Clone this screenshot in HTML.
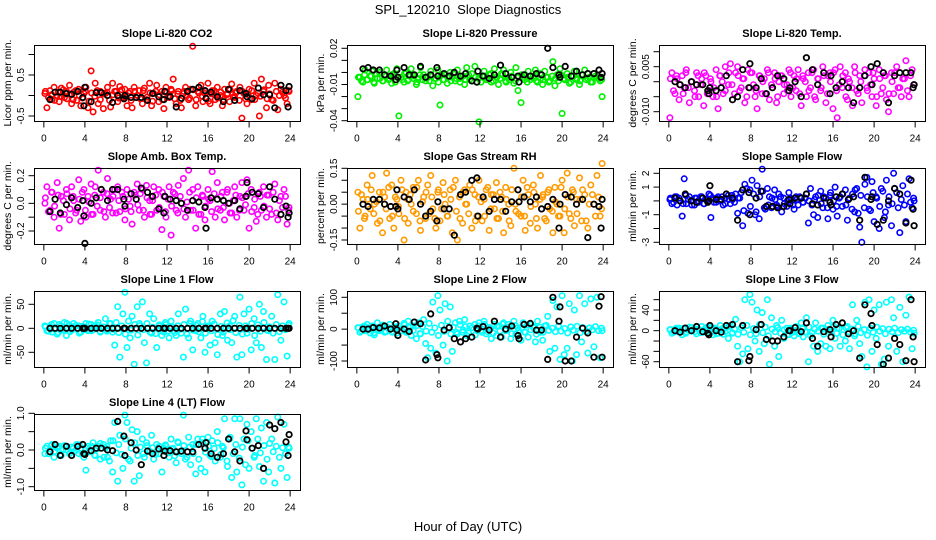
<!DOCTYPE html>
<html><head><meta charset="utf-8"><style>
html,body{margin:0;padding:0;background:#fff}
svg{display:block}
text{font-family:"Liberation Sans",Arial,sans-serif;fill:#000}
</style></head><body>
<svg id="chart" width="936" height="540" viewBox="0 0 936 540" xmlns="http://www.w3.org/2000/svg">
<text x="468" y="14" text-anchor="middle" font-size="13" xml:space="preserve">SPL_120210  Slope Diagnostics</text>
<text x="468" y="531" text-anchor="middle" font-size="13">Hour of Day (UTC)</text>
</svg>
<script>
const hours=[0.1,0.3,0.6,0.8,1.0,1.3,1.5,1.7,2.0,2.2,2.5,2.7,2.9,3.2,3.4,3.6,3.9,4.1,4.3,4.6,4.8,5.0,5.3,5.5,5.8,6.0,6.2,6.5,6.7,6.9,7.2,7.4,7.7,7.9,8.1,8.4,8.6,8.8,9.1,9.3,9.6,9.8,10.0,10.3,10.5,10.7,11.0,11.2,11.5,11.7,11.9,12.2,12.4,12.6,12.9,13.1,13.4,13.6,13.8,14.1,14.3,14.5,14.8,15.0,15.3,15.5,15.7,16.0,16.2,16.4,16.7,16.9,17.2,17.4,17.6,17.9,18.1,18.3,18.6,18.8,19.1,19.3,19.5,19.8,20.0,20.2,20.5,20.7,21.0,21.2,21.4,21.7,21.9,22.2,22.5,22.8,23.1,23.4,23.7,23.9];
const hours2=[0.15,0.45,0.75,1.05,1.4,1.65,1.9,2.25,2.55,2.85,3.1,3.45,3.75,4.05,4.4,4.65,4.95,5.2,5.5,5.85,6.15,6.4,6.75,7.05,7.3,7.6,7.95,8.25,8.5,8.85,9.15,9.4,9.7,10.05,10.35,10.6,10.9,11.25,11.55,11.85,12.1,12.45,12.75,13.05,13.3,13.65,13.95,14.2,14.55,14.85,15.1,15.45,15.75,16.05,16.35,16.6,16.95,17.25,17.5,17.85,18.15,18.45,18.7,19.05,19.35,19.65,19.9,20.25,20.55,20.85,21.1,21.45,21.75,22.0,22.35,22.65,22.95,23.25,23.55,23.85];
const blackHours=[0.6,1.1,1.6,2.2,2.7,3.3,3.8,3.9,4.0,4.6,5.1,5.6,6.2,6.7,7.2,7.8,7.9,8.5,9.0,9.5,10.1,10.6,11.2,11.7,11.8,12.3,12.9,13.4,14.0,14.5,15.1,15.7,15.8,16.3,16.9,17.5,18.0,18.6,19.1,19.7,19.8,20.3,20.9,21.4,22.0,22.5,23.1,23.6,23.8,23.9];
const xTicks=[0,4,8,12,16,20,24];

const co2Vals=[0.05,-0.3,0.12,-0.1,0.2,0.0,-0.15,0.18,-0.05,0.1,0.25,-0.2,0.08,-0.12,0.15,-0.25,0.05,0.2,-0.3,0.6,-0.4,0.3,-0.2,0.1,-0.32,0.05,0.2,-0.28,0.3,0.1,-0.15,0.22,-0.05,0.15,-0.25,0.1,-0.3,0.2,0.0,0.12,-0.2,0.18,-0.1,0.3,-0.25,0.05,0.25,-0.15,0.1,-0.32,0.2,-0.05,0.15,0.4,-0.2,0.1,-0.3,0.05,0.2,-0.1,0.15,1.2,-0.25,0.1,0.25,-0.15,0.05,0.3,-0.2,0.12,-0.1,0.2,0.0,-0.25,0.15,0.05,-0.15,0.28,-0.05,0.1,0.2,-0.55,0.05,-0.2,0.15,-0.1,0.3,0.0,-0.5,0.4,0.1,-0.3,0.25,-0.1,0.3,-0.35,0.15,0.0,-0.2,0.1];
const co2Core=[0.1,-0.05,0.02,-0.12,0.08,-0.02,0.14,-0.08,0.04,-0.1,0.12,0.0,-0.06,0.1,-0.14,0.06,-0.02,0.12,-0.1,0.04,0.08,-0.12,0.02,0.1,-0.06,0.14,-0.04,0.06,-0.12,0.1,0.0,-0.08,0.12,-0.04,0.06,-0.14,0.1,0.02,-0.1,0.08,-0.02,0.12,-0.08,0.04,-0.12,0.1,0.0,-0.06,0.14,-0.1,0.06,-0.02,0.1,-0.14,0.04,0.12,-0.06,0.08,-0.1,0.02,0.14,-0.04,0.06,-0.12,0.1,-0.08,0.02,0.12,-0.1,0.06,-0.02,0.14,-0.08,0.04,-0.12,0.1,0.0,0.08,-0.06,0.12];
const co2Black=[-0.1,0.08,0.08,0.05,0.03,0.1,-0.05,-0.25,0.2,-0.15,0.07,0.07,0.0,-0.17,0.0,-0.08,0.0,-0.05,-0.05,-0.05,-0.12,0.05,-0.03,-0.1,0.1,-0.03,-0.28,-0.07,0.1,0.15,0.2,0.12,-0.07,0.08,-0.03,-0.15,0.15,-0.12,0.12,0.05,-0.03,-0.08,0.18,0.02,0.02,-0.3,0.25,0.12,-0.28,0.22];
const presVals=[-0.02,-0.004,-0.008,0.002,-0.006,-0.003,0.001,-0.009,-0.005,0.0,-0.007,-0.002,0.002,-0.005,-0.009,-0.001,0.003,-0.036,-0.004,-0.008,0.0,-0.006,0.003,-0.003,-0.01,-0.005,0.004,-0.002,-0.007,-0.004,0.001,-0.011,-0.005,0.002,-0.027,-0.006,-0.002,-0.009,0.0,-0.004,-0.007,0.002,-0.005,-0.003,-0.01,0.004,-0.006,-0.001,0.005,-0.008,-0.041,-0.003,0.001,-0.006,-0.002,-0.008,0.003,-0.004,-0.01,-0.001,0.002,-0.007,-0.004,0.0,-0.009,0.004,-0.015,-0.025,-0.004,-0.002,0.001,-0.006,-0.003,0.002,-0.008,-0.005,-0.01,0.001,-0.004,-0.007,0.009,-0.011,-0.002,0.003,-0.034,-0.005,-0.001,-0.009,-0.003,0.001,-0.006,-0.01,-0.002,0.002,-0.005,-0.008,-0.001,-0.004,-0.007,-0.02];
const presCore=[-0.004,-0.007,-0.002,-0.006,-0.003,-0.008,-0.001,-0.005,-0.007,-0.003,-0.006,-0.002,-0.008,-0.004,-0.006,-0.001,-0.007,-0.003,-0.005,-0.008,-0.002,-0.006,-0.004,-0.007,-0.003,-0.005,-0.008,-0.002,-0.006,-0.004,-0.007,-0.001,-0.005,-0.008,-0.003,-0.006,-0.002,-0.007,-0.004,-0.005,-0.008,-0.003,-0.006,-0.001,-0.007,-0.004,-0.005,-0.002,-0.008,-0.006,-0.003,-0.007,-0.004,-0.002,-0.006,-0.008,-0.003,-0.005,-0.007,-0.001,-0.006,-0.004,-0.008,-0.003,-0.005,-0.007,-0.002,-0.006,-0.004,-0.008,-0.003,-0.005,-0.007,-0.002,-0.006,-0.004,-0.008,-0.003,-0.005,-0.006];
const presBlack=[0.003,0.004,0.002,0.002,-0.002,-0.003,-0.006,0.002,-0.004,0.004,-0.002,-0.002,0.005,-0.004,-0.002,0.004,-0.003,-0.001,-0.003,0.0,-0.003,-0.001,-0.007,-0.008,0.001,-0.003,-0.005,-0.002,0.006,-0.001,-0.004,-0.003,-0.008,-0.002,-0.003,-0.001,-0.002,0.02,0.004,-0.002,-0.004,0.005,-0.003,0.001,-0.002,-0.001,-0.001,0.002,-0.004,-0.001];
const tempVals=[-0.012,0.003,-0.004,0.001,-0.006,0.002,-0.002,0.004,-0.007,0.0,-0.003,0.003,-0.005,0.001,-0.008,0.002,-0.003,0.0,-0.005,0.004,-0.009,0.002,-0.004,0.005,-0.001,0.006,-0.006,0.003,0.005,-0.003,0.001,-0.007,0.004,-0.002,0.003,-0.005,-0.009,0.002,-0.004,0.001,0.004,-0.006,-0.001,0.003,-0.007,0.0,0.002,-0.004,-0.001,0.004,-0.005,0.002,-0.003,0.004,-0.008,0.001,-0.005,0.003,-0.002,0.004,-0.006,0.001,-0.003,0.005,-0.007,0.002,0.003,-0.009,0.004,-0.012,0.005,-0.002,0.003,-0.006,0.0,-0.008,0.005,-0.003,0.002,-0.007,0.004,-0.002,0.003,-0.005,0.001,-0.008,0.004,-0.004,0.002,-0.006,-0.01,0.003,-0.004,0.005,-0.002,0.001,0.007,-0.005,0.004,-0.001];
const tempCore=[0.001,-0.003,0.002,-0.001,-0.004,0.003,-0.002,0.0,-0.005,0.002,-0.001,0.003,-0.004,0.001,-0.002,-0.005,0.002,0.0,-0.003,0.003,-0.001,-0.004,0.002,-0.002,0.001,-0.005,0.003,-0.001,-0.003,0.002,0.0,-0.004,0.003,-0.002,0.001,-0.005,0.002,-0.001,-0.003,0.003,-0.002,0.001,-0.004,0.002,0.0,-0.003,0.003,-0.005,0.001,-0.002,0.002,-0.004,0.0,0.003,-0.003,-0.001,0.002,-0.005,0.001,-0.002,0.003,-0.004,0.0,0.002,-0.003,-0.001,0.003,-0.005,0.001,-0.002,0.002,-0.004,0.0,0.003,-0.002,-0.005,0.001,-0.003,0.002,-0.001];
const tempBlack=[0.0,-0.001,-0.002,0.0,-0.001,-0.001,-0.003,-0.004,-0.002,-0.003,-0.002,0.002,-0.006,-0.005,0.004,-0.002,0.006,-0.002,0.001,-0.004,-0.002,0.002,0.001,-0.003,-0.002,0.0,-0.005,0.008,0.004,-0.001,0.003,-0.004,0.002,-0.002,0.0,-0.002,-0.007,-0.002,0.002,0.005,-0.001,0.006,0.003,-0.007,0.002,0.003,0.003,0.003,-0.002,-0.001];
const ambVals=[0.0,0.12,-0.05,0.08,-0.1,0.15,-0.18,0.05,-0.08,0.1,-0.12,0.12,0.02,-0.05,0.17,-0.13,0.1,-0.1,0.05,0.14,-0.08,0.12,0.24,-0.05,0.08,-0.1,0.18,0.03,-0.07,0.1,0.12,-0.06,0.05,-0.12,0.1,-0.02,-0.15,0.08,0.14,-0.05,0.1,-0.1,0.13,0.02,-0.08,0.12,-0.05,0.1,-0.19,0.05,-0.1,0.12,-0.23,0.08,-0.05,0.13,0.0,0.18,-0.1,0.24,-0.05,0.1,-0.18,0.12,-0.08,0.05,-0.12,0.1,0.02,0.23,-0.1,0.15,-0.05,0.08,-0.12,0.1,0.0,-0.07,0.12,-0.1,0.05,0.15,-0.05,0.17,-0.18,0.1,-0.03,-0.13,0.08,-0.05,0.12,-0.1,0.06,-0.08,0.14,-0.12,0.05,0.1,-0.15,-0.03];
const ambCore=[0.04,-0.06,0.08,-0.02,0.06,-0.08,0.02,0.07,-0.04,0.05,-0.07,0.03,0.08,-0.05,0.01,-0.08,0.06,-0.02,0.04,-0.06,0.07,-0.03,0.05,-0.07,0.02,0.08,-0.04,0.03,-0.06,0.06,-0.01,0.07,-0.05,0.04,-0.08,0.02,0.06,-0.03,0.08,-0.06,0.03,-0.02,0.07,-0.07,0.05,-0.04,0.01,0.08,-0.05,0.04,-0.08,0.06,-0.02,0.03,-0.06,0.07,-0.04,0.05,-0.03,0.08,-0.07,0.02,0.06,-0.05,0.04,-0.01,0.07,-0.06,0.03,-0.08,0.05,-0.02,0.06,-0.04,0.08,-0.07,0.02,-0.03,0.05,-0.05];
const ambBlack=[-0.06,0.03,-0.07,-0.01,0.04,-0.03,0.02,-0.09,-0.29,0.0,0.04,0.1,0.02,0.1,0.1,0.03,-0.02,0.07,0.03,0.11,0.08,0.05,-0.04,-0.07,0.05,0.03,0.02,0.0,-0.05,0.02,0.01,-0.03,-0.18,0.04,0.03,0.02,0.0,0.02,-0.04,0.05,0.15,0.08,0.07,-0.03,0.12,0.03,-0.08,-0.02,-0.1,-0.07];
const rhVals=[0.05,-0.1,0.02,-0.05,0.08,-0.02,0.12,0.0,-0.08,0.05,-0.12,0.03,0.13,-0.06,0.08,-0.1,0.02,-0.04,0.1,-0.15,0.05,-0.08,0.0,0.07,-0.04,0.1,-0.11,0.03,-0.06,0.08,0.12,-0.02,-0.1,0.05,-0.07,0.09,0.0,-0.05,0.06,-0.12,0.1,-0.15,0.03,-0.08,0.06,0.0,0.08,-0.1,0.04,-0.05,0.1,-0.07,0.02,0.06,-0.11,0.04,-0.02,0.09,-0.06,0.03,-0.12,0.07,0.0,-0.09,0.15,-0.03,0.06,-0.05,0.1,-0.11,0.04,-0.08,0.08,0.0,-0.1,0.12,0.03,-0.06,0.05,-0.02,-0.12,0.07,0.0,-0.05,0.1,-0.12,0.13,-0.04,0.06,-0.09,0.02,0.11,-0.07,0.04,-0.1,0.08,0.0,0.12,-0.05,0.17];
const rhCore=[-0.03,0.04,-0.06,0.02,0.06,-0.04,0.01,-0.07,0.05,-0.02,0.07,-0.05,0.03,-0.01,0.06,-0.06,0.02,0.04,-0.03,0.07,-0.07,0.01,0.05,-0.04,0.03,-0.06,0.06,-0.02,0.04,-0.05,0.02,0.07,-0.03,-0.06,0.05,0.0,-0.04,0.06,-0.07,0.03,0.01,-0.05,0.07,-0.02,0.04,-0.06,0.05,-0.03,0.02,-0.07,0.06,0.0,-0.04,0.03,-0.05,0.07,-0.01,0.05,-0.06,0.02,0.04,-0.07,0.06,-0.03,0.01,-0.05,0.07,-0.02,0.03,-0.06,0.05,-0.04,0.02,0.06,-0.07,0.0,0.04,-0.05,0.03,-0.02];
const rhBlack=[0.0,-0.01,0.02,0.02,0.0,-0.01,-0.01,0.06,-0.02,0.03,0.02,0.06,0.0,-0.05,-0.03,-0.07,0.01,-0.02,-0.02,-0.13,0.04,0.05,0.1,0.11,-0.05,0.03,-0.03,0.02,0.02,-0.03,0.01,0.06,0.01,0.03,0.01,0.03,-0.02,-0.01,0.02,-0.1,0.0,0.04,0.03,0.0,0.02,-0.14,0.0,-0.01,-0.1,0.02];
const sampleVals=[0.1,-0.2,0.3,-0.3,0.2,-1.1,1.6,-0.2,0.3,0.0,-0.3,0.2,-0.1,0.3,-0.2,0.1,0.5,-1.2,0.2,-0.1,0.3,0.0,-0.3,0.2,0.4,-0.2,0.1,0.5,-0.9,0.2,-1.8,1.2,-0.9,0.8,1.5,-1.0,1.1,-1.3,2.3,-0.5,0.9,0.3,-0.5,0.8,-0.3,0.5,-0.8,0.2,-0.4,0.6,0.1,-0.6,0.3,-0.3,0.2,-0.1,0.5,-1.6,0.9,-1.0,0.3,-1.2,0.7,-0.5,0.2,-1.3,0.4,-0.6,1.0,-1.1,0.3,-0.4,0.8,-1.4,0.2,0.5,-0.8,0.9,-1.9,-3.0,1.2,1.7,-0.6,1.4,-1.5,0.3,-2.0,0.9,-1.2,1.5,-0.3,-1.8,2.0,0.6,-2.3,1.1,-1.5,1.6,-0.5,0.0];
const sampleCore=[0.2,-0.1,0.3,0.0,-0.2,0.4,0.1,-0.3,0.2,0.0,0.3,-0.2,0.1,0.4,-0.1,0.2,0.0,0.3,-0.2,0.1,0.4,-0.1,0.2,0.6,-0.7,0.9,-0.4,0.5,-0.8,0.3,0.7,-0.6,-0.3,0.2,0.1,-0.4,0.3,-0.2,0.0,0.2,-0.3,0.1,0.3,-0.1,0.2,0.0,-0.3,0.1,0.4,-0.2,0.3,-0.5,0.6,0.0,-0.4,0.2,0.5,-0.3,0.1,-0.6,0.8,-0.9,0.4,-0.5,0.3,-0.7,0.6,0.2,-0.4,0.7,-0.8,0.3,-0.2,0.9,-0.5,0.1,-0.3,0.5,-0.1,0.2];
const sampleBlack=[0.2,0.0,0.5,0.0,-0.1,0.2,-0.1,0.0,1.1,0.1,0.1,0.5,0.2,-1.4,0.8,0.6,-1.0,0.2,0.7,-0.4,-0.4,-0.5,-0.4,0.1,-0.2,0.2,0.2,0.5,-0.2,-0.3,0.2,-0.1,-0.3,0.3,0.5,0.1,0.3,-1.4,1.7,0.1,0.3,-1.7,-1.4,0.0,0.9,0.5,-1.6,1.5,-0.6,-1.8];
const line1Vals=[5,-5,3,-8,10,-12,8,-3,12,-15,6,-4,10,-2,5,-8,3,10,-5,8,-3,5,12,-6,2,20,-4,10,-8,-35,45,-60,30,75,-40,-20,25,-75,45,10,55,-30,-72,30,-10,20,-40,5,-15,-8,8,-20,15,-5,-15,30,-10,-60,40,-20,15,-45,-5,10,-20,25,-50,5,-35,15,-30,-55,30,-15,35,-25,5,-30,25,-60,65,-55,30,-10,40,-45,20,-30,50,-40,35,-65,-5,25,-65,70,-25,55,-58,10];
const line1Core=[3,-6,8,-2,-9,5,-4,10,-7,2,6,-10,4,-3,9,-5,1,7,-8,3,-6,10,-2,12,-9,5,-12,15,-4,8,-14,6,-3,10,-8,2,-11,7,-5,12,-6,3,-9,5,-2,8,-12,10,-4,6,-7,14,-10,3,-5,9,-13,4,-8,11,-3,16,-9,6,-12,5,-2,10,-15,7,-6,12,-4,3,-10,8,-7,5,-3,6];
const line1Black=[0,0,0,0,0,0,0,0,0,0,0,0,0,0,0,0,0,0,0,0,0,0,0,0,0,0,0,0,0,0,0,0,0,0,0,0,0,0,0,0,0,0,0,0,0,0,0,0,0,0];
const line2Vals=[5,-10,8,-5,15,-12,10,-18,20,-5,12,-10,8,15,-8,5,-12,10,-5,18,-10,25,-20,10,-30,20,-15,30,-45,-90,-60,85,-75,105,60,-50,80,-100,70,-70,20,-15,25,-10,30,-20,10,-25,15,-5,20,-10,25,-15,5,-30,15,-20,10,-25,20,-5,15,-30,25,-15,5,-35,20,-10,-25,15,5,-40,25,-10,-35,10,40,-70,90,-60,70,-95,105,-80,-60,80,-100,60,-80,105,-40,80,-75,95,-55,100,-90,-5];
const line2Core=[4,-6,10,-3,8,-12,5,-2,12,-8,3,-10,7,2,-5,14,-9,6,-4,11,-14,8,-6,18,-10,4,-20,12,-7,25,-15,6,-10,14,-3,8,-12,5,-18,10,-4,15,-8,2,-12,9,-6,16,-3,7,-14,11,-5,4,-9,13,-2,8,-16,6,-10,12,-4,3,-8,10,-6,2,-12,7,-3,9,-11,5,-7,4,-2,8,-5,3];
const line2Black=[0,0,5,4,10,0,17,-2,-20,0,-7,22,17,-97,48,-80,-90,-3,5,-30,-40,-30,-25,3,0,8,-3,25,-25,0,10,-20,-30,15,18,-3,-3,-95,100,25,70,-100,-100,-25,3,-12,-88,72,102,-88];
const line3Vals=[2,-5,3,-2,5,-8,4,-3,7,-1,4,-6,2,8,-3,5,-2,6,-8,3,-5,10,-7,5,-15,10,-4,22,-30,-60,-45,60,-35,70,55,-20,40,-40,35,-25,60,-65,25,-30,10,-50,20,-15,5,-8,3,-10,8,-5,15,-12,25,-60,-10,-30,15,-40,-25,5,-30,10,-35,20,-15,5,-30,15,-20,8,-35,50,-10,20,-25,-50,55,-70,60,-40,40,-15,50,-65,-55,55,-30,60,25,-40,45,-60,30,65,-35,-5];
const line3Core=[2,-3,5,-1,4,-5,1,6,-2,3,-4,2,7,-3,5,-6,1,4,-2,8,-5,3,-7,6,-3,10,-8,4,-6,12,-4,7,-10,3,-2,6,-5,2,-8,5,-3,1,-6,4,-2,7,-4,3,-1,5,-7,2,-3,9,-5,4,-8,6,-2,3,-6,8,-4,2,-9,5,-3,7,-1,4,-6,3,-2,5,-4,2,-1,3,-3,1];
const line3Black=[0,-3,5,0,8,-2,-5,-8,10,0,-3,10,12,-60,10,-58,-50,2,12,-17,-20,-20,-12,0,0,6,-2,15,-15,-30,-2,2,-12,12,15,-6,0,-53,50,33,10,-27,-65,-53,-15,-27,-58,60,-12,-60];
const line4Vals=[-0.1,0.1,-0.05,0.15,-0.2,0.05,0.1,-0.15,0.12,0.0,-0.1,0.08,-0.05,0.15,-0.1,0.05,-0.2,-0.55,0.1,-0.05,0.2,-0.15,0.1,-0.25,0.15,0.05,-0.2,0.25,-0.6,0.75,-0.85,0.4,-0.5,0.95,0.75,-0.3,0.55,-0.85,0.5,-0.7,0.3,-0.2,0.2,-0.05,0.4,-0.25,0.15,-0.1,-0.6,0.05,0.1,-0.2,0.3,0.05,-0.35,0.2,-0.1,0.95,-0.25,0.35,-0.4,0.15,-0.65,0.3,-0.5,0.2,-0.6,0.35,-0.15,0.25,-0.3,0.5,-0.2,0.1,0.85,-0.45,0.3,-0.75,0.85,-0.6,0.85,-0.95,0.3,0.7,-0.5,0.5,-0.2,0.85,-0.45,0.6,-0.85,0.75,-0.6,0.3,-0.9,0.9,-0.5,0.7,-0.75,0.05];
const line4Core=[0.05,-0.1,0.12,-0.04,0.08,-0.12,0.02,0.1,-0.08,0.04,-0.02,0.14,-0.1,0.06,-0.05,0.1,-0.14,0.03,0.18,-0.2,0.1,-0.3,0.25,-0.08,0.15,-0.12,0.3,-0.25,0.05,0.2,-0.15,0.08,-0.1,0.12,-0.04,0.06,-0.12,0.1,-0.02,0.14,-0.08,0.03,-0.16,0.22,-0.05,0.12,-0.2,0.08,-0.1,0.15,-0.25,0.3,-0.06,0.1,-0.18,0.04,0.2,-0.12,0.06,-0.3,0.35,-0.1,0.15,-0.22,0.08,-0.4,0.25,0.05,-0.15,0.3,-0.08,0.12,-0.25,0.18,-0.05,0.1,-0.2,0.06,-0.1,0.08];
const line4Black=[-0.05,0.15,-0.15,0.1,-0.15,0.1,0.15,-0.1,-0.12,-0.02,0.05,0.05,0.0,-0.02,0.78,0.38,-0.15,0.2,0.0,-0.4,-0.03,-0.1,0.03,-0.15,-0.03,-0.02,-0.05,-0.03,-0.05,-0.05,0.15,0.05,0.2,-0.1,-0.2,-0.1,0.3,-0.05,-0.3,0.52,0.28,0.05,0.12,-0.5,0.68,0.58,0.75,0.22,-0.15,0.42];

const co2Ticks=[-0.5,0,0.5,1.0], co2Labels=["-0.5","","0.5",""];
const presTicks=[0.02,0.01,0,-0.01,-0.02,-0.03,-0.04], presLabels=["0.02","","","-0.01","","","-0.04"];
const tempTicks=[0.01,0.005,0,-0.005,-0.01], tempLabels=["","0.005","","","-0.010"];
const ambTicks=[0.2,0.1,0,-0.1,-0.2], ambLabels=["0.2","","0.0","","-0.2"];
const rhTicks=[0.15,0.1,0.05,0,-0.05,-0.1,-0.15], rhLabels=["0.15","","","0.00","","","-0.15"];
const sampleTicks=[2,1,0,-1,-2,-3], sampleLabels=["2","1","","-1","","-3"];
const line1Ticks=[50,0,-50], line1Labels=["50","0","-50"];
const line2Ticks=[100,50,0,-50,-100], line2Labels=["100","","0","","-100"];
const line3Ticks=[60,40,20,0,-20,-40,-60], line3Labels=["","40","","0","","","-60"];
const line4Ticks=[1,0.5,0,-0.5,-1], line4Labels=["1.0","","0.0","","-1.0"];

const NS="http://www.w3.org/2000/svg";
const svg=document.getElementById('chart');
function mk(tag,attrs,parent){const e=document.createElementNS(NS,tag);for(const k in attrs)e.setAttribute(k,attrs[k]);(parent||svg).appendChild(e);return e;}
const colL=[34,347,659], rowT=[45,168,291,414], W=266, H=76;
const panels=[
 {key:'co2',title:'Slope Li-820 CO2',ylab:'Licor ppm per min.',c:0,r:0,vals:co2Vals,core:co2Core,blk:co2Black,ticks:co2Ticks,labels:co2Labels,cal:[0.5,75,-0.5,116],col:'#ff0000'},
 {key:'pressure',title:'Slope Li-820 Pressure',ylab:'kPa per min.',c:1,r:0,vals:presVals,core:presCore,blk:presBlack,ticks:presTicks,labels:presLabels,cal:[0.02,48.3,-0.04,120.7],col:'#00ee00'},
 {key:'li820-temp',title:'Slope Li-820 Temp.',ylab:'degrees C per min.',c:2,r:0,vals:tempVals,core:tempCore,blk:tempBlack,ticks:tempTicks,labels:tempLabels,cal:[0.005,66.7,-0.01,111.7],col:'#ff00ff'},
 {key:'amb-box-temp',title:'Slope Amb. Box Temp.',ylab:'degrees C per min.',c:0,r:1,vals:ambVals,core:ambCore,blk:ambBlack,ticks:ambTicks,labels:ambLabels,cal:[0.2,175.7,-0.2,231],col:'#ff00ff'},
 {key:'gas-stream-rh',title:'Slope Gas Stream RH',ylab:'percent per min.',c:1,r:1,vals:rhVals,core:rhCore,blk:rhBlack,ticks:rhTicks,labels:rhLabels,cal:[0.15,168.3,-0.15,240],col:'#ff9a00'},
 {key:'sample-flow',title:'Slope Sample Flow',ylab:'ml/min per min.',c:2,r:1,vals:sampleVals,core:sampleCore,blk:sampleBlack,ticks:sampleTicks,labels:sampleLabels,cal:[2,173.3,-3,242.3],col:'#0000ff'},
 {key:'line1-flow',title:'Slope Line 1 Flow',ylab:'ml/min per min.',c:0,r:2,vals:line1Vals,core:line1Core,blk:line1Black,ticks:line1Ticks,labels:line1Labels,cal:[50,304.3,-50,352.3],col:'#00ffff'},
 {key:'line2-flow',title:'Slope Line 2 Flow',ylab:'ml/min per min.',c:1,r:2,vals:line2Vals,core:line2Core,blk:line2Black,ticks:line2Ticks,labels:line2Labels,cal:[100,297.3,-100,361],col:'#00ffff'},
 {key:'line3-flow',title:'Slope Line 3 Flow',ylab:'ml/min per min.',c:2,r:2,vals:line3Vals,core:line3Core,blk:line3Black,ticks:line3Ticks,labels:line3Labels,cal:[40,310,-60,361.7],col:'#00ffff'},
 {key:'line4-flow',title:'Slope Line 4 (LT) Flow',ylab:'ml/min per min.',c:0,r:3,vals:line4Vals,core:line4Core,blk:line4Black,ticks:line4Ticks,labels:line4Labels,cal:[1,413.3,-1,486.7],col:'#00ffff'}
];
panels.forEach(p=>{
 const L=colL[p.c], T=rowT[p.r];
 const g=mk('g',{});
 
 
 const xs=h=>L+W*(h+0.96)/25.92;
 const ys=v=>p.cal[1]+(v-p.cal[0])*(p.cal[3]-p.cal[1])/(p.cal[2]-p.cal[0]);
 const t=mk('text',{x:L+W/2,y:T-8,'text-anchor':'middle','font-size':'11','font-weight':'bold'},g);
 t.textContent=p.title;
 
 
 const pts=mk('g',{fill:'none','stroke-width':'1.6'},g);
 
 
 for(let i=0;i<hours2.length&&i<p.core.length;i++){
  const c=mk('circle',{cx:xs(hours2[i]).toFixed(1),cy:ys(p.core[i]).toFixed(1),r:'2.7',stroke:p.col},pts);
  
  
 }
 for(let i=0;i<hours.length&&i<p.vals.length;i++){
  const c=mk('circle',{cx:xs(hours[i]).toFixed(1),cy:ys(p.vals[i]).toFixed(1),r:'2.7',stroke:p.col},pts);
  
  
 }
 for(let i=0;i<blackHours.length&&i<p.blk.length;i++){
  const c=mk('circle',{cx:xs(blackHours[i]).toFixed(1),cy:ys(p.blk[i]).toFixed(1),r:'2.7',stroke:'#000','stroke-width':'1.8'},pts);
  
  
 }
 const box=mk('rect',{x:L+0.5,y:T+0.5,width:W,height:H,fill:'none',stroke:'#000','stroke-width':'1'},g);
 
 
 const xa=mk('g',{},g);
 
 
 const B=T+H+0.5;
 mk('line',{x1:xs(xTicks[0]),x2:xs(xTicks[xTicks.length-1]),y1:B,y2:B,stroke:'#000'},xa);
 xTicks.forEach(v=>{
  mk('line',{x1:xs(v),x2:xs(v),y1:B,y2:B+6,stroke:'#000'},xa);
  const tl=mk('text',{x:xs(v),y:B+20,'text-anchor':'middle','font-size':'10'},xa);
  tl.textContent=String(v);
  
  
 });
 const ya=mk('g',{},g);
 
 
 const yv=p.ticks.map(ys);
 mk('line',{x1:L+0.5,x2:L+0.5,y1:Math.min(...yv),y2:Math.max(...yv),stroke:'#000'},ya);
 p.ticks.forEach((v,i)=>{
  const y=ys(v);
  mk('line',{x1:L+0.5,x2:L-5.5,y1:y,y2:y,stroke:'#000'},ya);
  if(p.labels[i]){
   const tl=mk('text',{x:L-10,y:y,'text-anchor':'middle','font-size':'10',transform:`rotate(-90 ${L-10} ${y})`},ya);
   tl.textContent=p.labels[i];
   
   
  }
 });
 const cy=T+H/2, cx=L-23;
 const yl=mk('text',{x:cx,y:cy,'text-anchor':'middle','font-size':'10.5',transform:`rotate(-90 ${cx} ${cy})`},g);
 yl.textContent=p.ylab;
 
 
});
</script>
</body></html>
